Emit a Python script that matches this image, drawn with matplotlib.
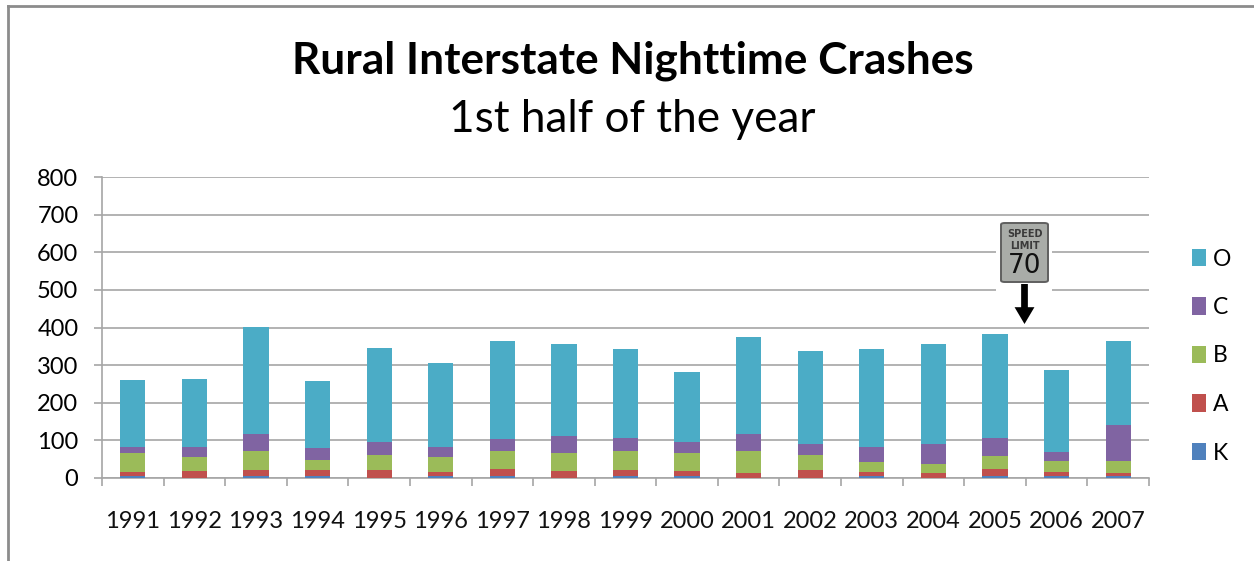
import matplotlib
matplotlib.use("Agg")
import matplotlib.pyplot as plt
from matplotlib.patches import FancyBboxPatch, FancyArrowPatch, Rectangle
from matplotlib.lines import Line2D

plt.rcParams['font.family'] = ['Lato', 'DejaVu Sans']

years = ['1991', '1992', '1993', '1994', '1995', '1996', '1997', '1998', '1999',
         '2000', '2001', '2002', '2003', '2004', '2005', '2006', '2007']

k_vals = [5, 1, 5, 5, 1, 5, 5, 0, 5, 5, 1, 0, 4, 0, 5, 5, 5]
a_vals = [10, 18, 17, 17, 21, 10, 20, 19, 17, 14, 11, 22, 11, 12, 20, 10, 7]
b_vals = [51, 36, 51, 27, 40, 40, 48, 47, 51, 47, 61, 40, 27, 26, 34, 30, 33]
c_vals = [17, 28, 44, 31, 35, 28, 31, 45, 34, 31, 44, 28, 41, 52, 48, 25, 96]
o_vals = [177, 180, 285, 177, 248, 222, 261, 244, 235, 186, 258, 248, 259, 265, 275, 217, 224]

series = [('K', k_vals, '#4f81bd'), ('A', a_vals, '#c0504d'), ('B', b_vals, '#9bbb59'),
          ('C', c_vals, '#8064a2'), ('O', o_vals, '#4bacc6')]

W, H = 1254, 561
fig = plt.figure(figsize=(W / 100, H / 100), dpi=100, facecolor='white')
ax = fig.add_axes([102 / W, 1 - 478 / H, (1149 - 102) / W, (478 - 177) / H])

bottom = [0] * len(years)
x = list(range(len(years)))
for name, vals, color in series:
    ax.bar(x, vals, width=0.41, bottom=bottom, color=color, label=name, zorder=3)
    bottom = [b + v for b, v in zip(bottom, vals)]

ax.set_xlim(-0.5, len(years) - 0.5)
ax.set_ylim(0, 800)
ax.set_yticks(range(0, 801, 100))
ax.set_xticks([i - 0.5 for i in range(len(years) + 1)])
ax.set_xticklabels([])
ax.tick_params(axis='x', length=6, width=1.2, color='#a6a6a6')
ax.tick_params(axis='y', length=6, width=1.2, color='#a6a6a6', labelsize=17, pad=11)
ax.grid(axis='y', color='#a6a6a6', linewidth=1.2, zorder=0)
ax.set_axisbelow(True)
for side in ['top', 'right']:
    ax.spines[side].set_visible(False)
for side in ['left', 'bottom']:
    ax.spines[side].set_color('#a6a6a6')
    ax.spines[side].set_linewidth(1.2)

# Jahre von Hand, damit sie mittig unter den Balken stehen
for i, year in enumerate(years):
    ax.annotate(year, xy=(i, 0), xytext=(0, -43), xycoords=('data', 'axes fraction'),
                textcoords='offset pixels', ha='center', va='center', fontsize=17, color='#111111')

fig.text(633 / W, 1 - 61 / H, 'Rural Interstate Nighttime Crashes', ha='center', va='center',
         fontsize=31.8, fontweight='bold', color='black')
fig.text(632 / W, 1 - 119 / H, '1st half of the year', ha='center', va='center',
         fontsize=31.8, color='black')

# Legende
handles, labels = ax.get_legend_handles_labels()
ax.legend(handles[::-1], labels[::-1], loc='center left', bbox_to_anchor=(1171 / W, 1 - 356 / H),
          bbox_transform=fig.transFigure, frameon=False, fontsize=16.5, handlelength=0.62,
          handleheight=0.8, handletextpad=0.3, labelspacing=1.2)

# Rahmen links und oben
fig.add_artist(Line2D([8 / W, 8 / W], [0, 1 - 6 / H], color='#8c8c8c', lw=2))
fig.add_artist(Line2D([8 / W, 1], [1 - 6 / H, 1 - 6 / H], color='#8c8c8c', lw=2))

# Schild 70 mit Pfeil
fig.add_artist(Rectangle((996 / W, 1 - 294 / H), 56 / W, 76 / H, facecolor='white',
                         edgecolor='none', transform=fig.transFigure, zorder=4))
fig.add_artist(FancyBboxPatch((1001 / W, 1 - 282 / H), 47 / W, 59 / H,
                              boxstyle='round,pad=0,rounding_size=0.003', facecolor='#a9aca8',
                              edgecolor='#5f5f5f', lw=1.4, transform=fig.transFigure, zorder=5))
fig.text(1024.5 / W, 1 - 234 / H, 'SPEED', ha='center', va='center', fontsize=7, fontweight='bold',
         color='#3a3a3a', zorder=6, family='DejaVu Sans')
fig.text(1024.5 / W, 1 - 246 / H, 'LIMIT', ha='center', va='center', fontsize=7, fontweight='bold',
         color='#3a3a3a', zorder=6, family='DejaVu Sans')
fig.text(1024.5 / W, 1 - 266 / H, '70', ha='center', va='center', fontsize=19, color='#111111',
         zorder=6, family='DejaVu Sans')
fig.add_artist(FancyArrowPatch((1024.5 / W, 1 - 284 / H), (1024.5 / W, 1 - 324 / H),
                               transform=fig.transFigure, arrowstyle='simple,head_width=0.65,head_length=0.55,tail_width=0.22',
                               mutation_scale=22, color='black', lw=0, shrinkA=0, shrinkB=0, zorder=6))

fig.savefig('out.png', dpi=100)
